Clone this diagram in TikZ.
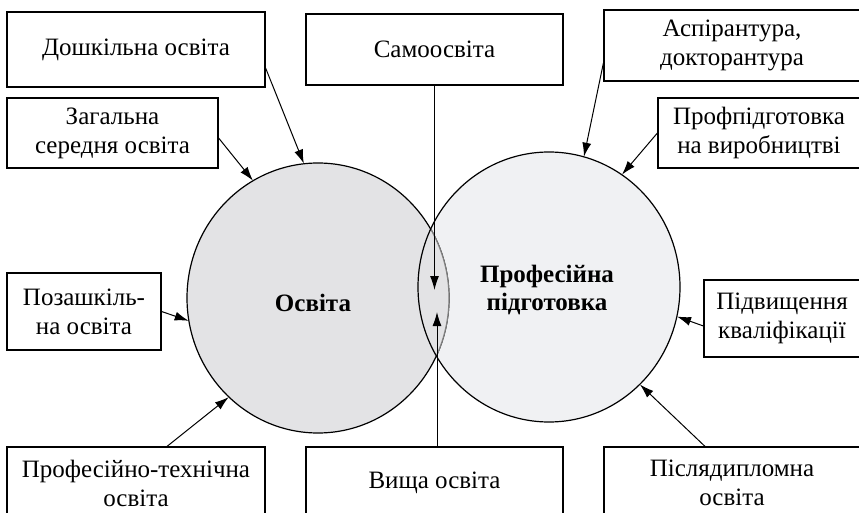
\documentclass[tikz,border=0pt]{standalone}
\usepackage{fontspec}
\setmainfont{Liberation Serif}
\usetikzlibrary{arrows.meta,shapes.geometric}

\definecolor{osvGray}{RGB}{227,227,229}
\definecolor{profGray}{RGB}{240,241,243}

\tikzset{
  kasten/.style={draw,line width=1.2pt,align=center,inner sep=2pt,font=\fontsize{25}{29}\selectfont},
  kreis/.style={ellipse,minimum width=262pt,minimum height=270pt,inner sep=0pt},
  titel/.style={align=center,font=\fontsize{25}{28}\selectfont\bfseries},
  pfeil/.style={-{Latex[length=14pt,width=9pt]},line width=1pt},
}

\begin{document}
\begin{tikzpicture}[x=1pt,y=-1pt]
\useasboundingbox (0,0) rectangle (859,513);
\clip (0,0) rectangle (859,513);
% Kreise
\fill[profGray] (549,287) ellipse [x radius=131, y radius=135];
\fill[osvGray] (318,298) ellipse [x radius=131, y radius=135];
\draw[line width=1.2pt] (318,298) ellipse [x radius=131, y radius=135];
\begin{scope}
\clip (549,287) ellipse [x radius=131, y radius=135];
\fill[osvGray] (318,298) ellipse [x radius=131, y radius=135];
\draw[line width=1.2pt,gray] (318,298) ellipse [x radius=131, y radius=135];
\end{scope}
\draw[line width=1.2pt] (549,287) ellipse [x radius=131, y radius=135];
\node[kreis] (osv) at (318,298) {};
\node[kreis] (prof) at (549,287) {};
\node[titel] (osvText) at (313,303) {Освіта};
\node[titel] (profText) at (547,290) {Професійна\\підготовка};
\coordinate (lensTop) at (434.5,290);
\coordinate (lensBot) at (437,312);
% Kaesten oben
\node[kasten,minimum width=258pt,minimum height=75pt] (doshk) at (136,49.5) {Дошкільна освіта};
\node[kasten,minimum width=257pt,minimum height=71pt] (samo) at (434.5,49.5) {Самоосвіта};
\node[kasten,minimum width=256pt,minimum height=71pt] (asp) at (732,45.5) {Аспірантура,\\докторантура};
\node[kasten,minimum width=211pt,minimum height=70pt] (zag) at (112.5,133) {Загальна\\середня освіта};
\node[kasten,minimum width=202pt,minimum height=70pt] (profp) at (759,133) {Профпідготовка\\на виробництві};
% Kaesten Mitte
\node[kasten,minimum width=154pt,minimum height=77pt] (pozash) at (84,311.5) {Позашкіль-\\на освіта};
\node[kasten,minimum width=156pt,minimum height=77pt] (pidv) at (782,318.5) {Підвищення\\кваліфікації};
% Kaesten unten
\node[kasten,minimum width=258pt,minimum height=72pt] (proftech) at (136,483) {Професійно-технічна\\освіта};
\node[kasten,minimum width=257pt,minimum height=72pt] (vyshcha) at (434.5,483) {Вища освіта};
\node[kasten,minimum width=256pt,minimum height=72pt] (pislya) at (732,483) {Післядипломна\\освіта};
% Pfeile
\draw[pfeil] ([yshift=-18.5pt]doshk.east) -- (osv.96);
\draw[pfeil] ([yshift=-5pt]zag.east) -- (osv.119);
\draw[pfeil] (pozash.east) -- (osv.190);
\draw[pfeil] ([xshift=31pt]proftech.north) -- (osv.228);
\draw[pfeil] (samo.south) -- (lensTop);
\draw[pfeil] ([xshift=2.5pt]vyshcha.north) -- (lensBot);
\draw[pfeil] ([yshift=-17.5pt]asp.west) -- (prof.75);
\draw[pfeil] (profp.west) -- (prof.57);
\draw[pfeil] ([yshift=-7.5pt]pidv.west) -- (prof.-13);
\draw[pfeil] ([xshift=-27pt]pislya.north) -- (prof.313);
\end{tikzpicture}
\end{document}
